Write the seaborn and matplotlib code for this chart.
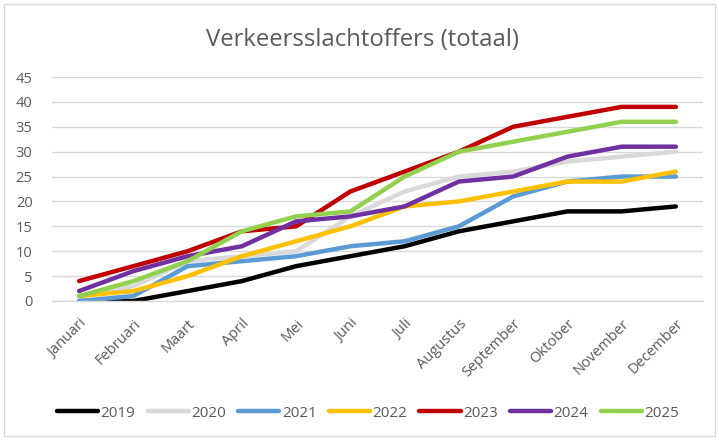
import matplotlib
matplotlib.use("Agg")
import matplotlib.pyplot as plt
import seaborn as sns
import pandas as pd
from matplotlib.lines import Line2D
from matplotlib.patches import Rectangle

months = ["Januari", "Februari", "Maart", "April", "Mei", "Juni", "Juli",
          "Augustus", "September", "Oktober", "November", "December"]
years = ["2019", "2020", "2021", "2022", "2023", "2024", "2025"]
v2019 = [0, 0, 2, 4, 7, 9, 11, 14, 16, 18, 18, 19]
v2020 = [1, 3, 8, 9, 10, 17, 22, 25, 26, 28, 29, 30]
v2021 = [0, 1, 7, 8, 9, 11, 12, 15, 21, 24, 25, 25]
v2022 = [1, 2, 5, 9, 12, 15, 19, 20, 22, 24, 24, 26]
v2023 = [4, 7, 10, 14, 15, 22, 26, 30, 35, 37, 39, 39]
v2024 = [2, 6, 9, 11, 16, 17, 19, 24, 25, 29, 31, 31]
v2025 = [1, 4, 8, 14, 17, 18, 25, 30, 32, 34, 36, 36]
colors = ["#000000", "#D9D9D9", "#5B9BD5", "#FFC000", "#C00000", "#7030A0", "#92D050"]
yticks = [0, 5, 10, 15, 20, 25, 30, 35, 40, 45]

series = [v2019, v2020, v2021, v2022, v2023, v2024, v2025]
rows = []
for y, vals in zip(years, series):
    for i, v in enumerate(vals):
        rows.append({"year": y, "month": i, "value": v})
df = pd.DataFrame(rows)

sns.set_style("white")
plt.rcParams["font.family"] = ["Open Sans", "DejaVu Sans"]
txt = "#595959"

fig = plt.figure(figsize=(7.19, 4.40), dpi=100)
ax = fig.add_axes([52 / 719, 1 - 301 / 440, (703 - 52) / 719, (301 - 77) / 440])

lw = 3.2
sns.lineplot(data=df, x="month", y="value", hue="year", hue_order=years,
             palette=colors, linewidth=lw, ax=ax, legend=False,
             solid_capstyle="round", solid_joinstyle="round")

ax.set_xlim(-0.5, 11.5)
ax.set_ylim(0, 45)
ax.set_yticks(yticks)
ax.set_yticklabels([str(t) for t in yticks], fontsize=10.5, color=txt)
ax.set_xticks(range(len(months)))
ax.set_xticklabels(months, rotation=45, ha="right", va="top",
                   rotation_mode="anchor", fontsize=10.5, color=txt)
ax.tick_params(axis="both", length=0)
ax.tick_params(axis="y", pad=14)
ax.tick_params(axis="x", pad=11)
ax.set_xlabel("")
ax.set_ylabel("")
ax.grid(axis="y", color="#D9D9D9", linewidth=1)
ax.set_axisbelow(True)
for s in ["top", "right", "left"]:
    ax.spines[s].set_visible(False)
ax.spines["bottom"].set_color("#D9D9D9")
ax.spines["bottom"].set_linewidth(1)

fig.text(363 / 719, 1 - 46 / 440, "Verkeersslachtoffers (totaal)",
         ha="center", va="baseline", fontsize=17.2, color=txt)

handles = [Line2D([0], [0], color=c, lw=lw, solid_capstyle="round") for c in colors]
fig.legend(handles, years, loc="center", bbox_to_anchor=(368 / 719, 1 - 413 / 440),
           ncol=7, frameon=False, fontsize=11, labelcolor=txt,
           handlelength=2.7, handletextpad=0.15, columnspacing=0.8)

fig.patches.append(Rectangle((4 / 719, 4 / 440), 711 / 719, 432 / 440,
                             transform=fig.transFigure, fill=False,
                             edgecolor="#D9D9D9", linewidth=1))

fig.savefig("out.png", dpi=100)
